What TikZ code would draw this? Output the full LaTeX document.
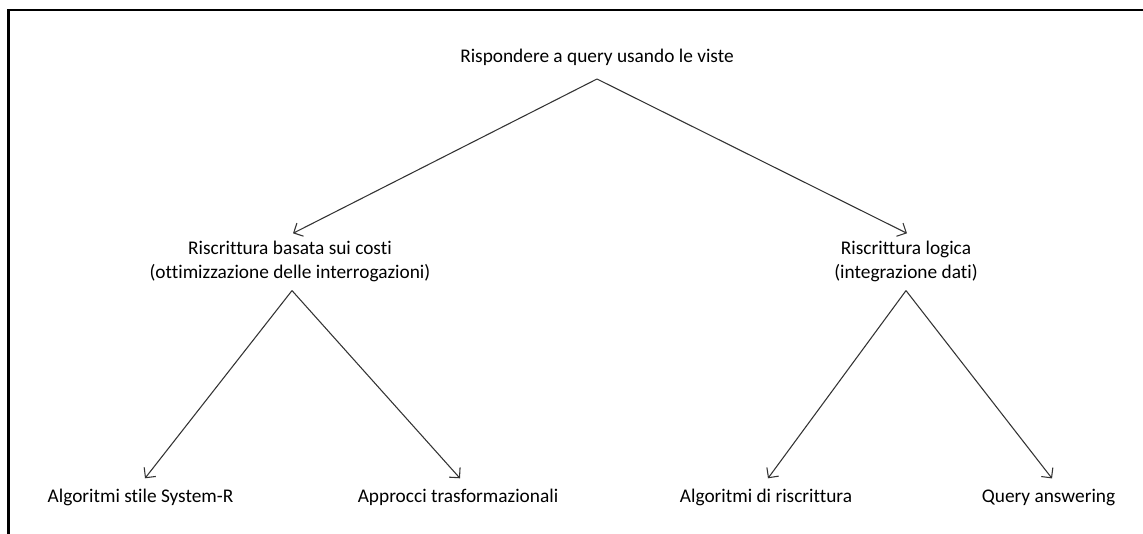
\documentclass[tikz,border=0pt]{standalone}
\usepackage{fontspec}
\setmainfont{Carlito}[Ligatures=NoCommon]
\usetikzlibrary{arrows.meta,calc}
\begin{document}
\begin{tikzpicture}[x=0.75pt,y=-0.75pt,
  lbl/.style={inner sep=0pt, font=\fontsize{14.5}{18}\selectfont, align=center},
  edge/.style={draw=black!80, line width=0.8pt, -{Straight Barb[length=5.5pt,width=11pt]}},
  frame/.style={line width=1.6pt}]
\useasboundingbox (0,0) rectangle (1143,534);
% open frame: top and left edges
\draw[frame] (8.5,534) -- (8.5,10) -- (1143,10);

% labels
\node[lbl, anchor=base] (root) at (597,63) {Rispondere a query usando le viste};
\node[lbl, anchor=base] (cost) at (290,279) {Riscrittura basata sui costi\\(ottimizzazione delle interrogazioni)};
\node[lbl, anchor=base] (logic) at (906,279) {Riscrittura logica\\(integrazione dati)};
\node[lbl, anchor=base] (sysr) at (140.5,503) {Algoritmi stile System-R};
\node[lbl, anchor=base] (trans) at (458,503) {Approcci trasformazionali};
\node[lbl, anchor=base] (rewr) at (766,503) {Algoritmi di riscrittura};
\node[lbl, anchor=base] (qa) at (1048.5,503) {Query answering};

% connectors
\draw[edge] ($(root.base)+(0,16)$) -- ($(cost.north)+(3,-8)$);
\draw[edge] ($(root.base)+(0,16)$) -- ($(logic.north)+(1,-8)$);
\draw[edge] ($(cost.south)+(2,8)$) -- ($(sysr.north)+(4.5,-11)$);
\draw[edge] ($(cost.south)+(2,8)$) -- ($(trans.north)+(2,-11)$);
\draw[edge] ($(logic.south)+(0,8)$) -- ($(rewr.north)+(2,-11)$);
\draw[edge] ($(logic.south)+(0,8)$) -- ($(qa.north)+(3.5,-11)$);
\end{tikzpicture}
\end{document}
